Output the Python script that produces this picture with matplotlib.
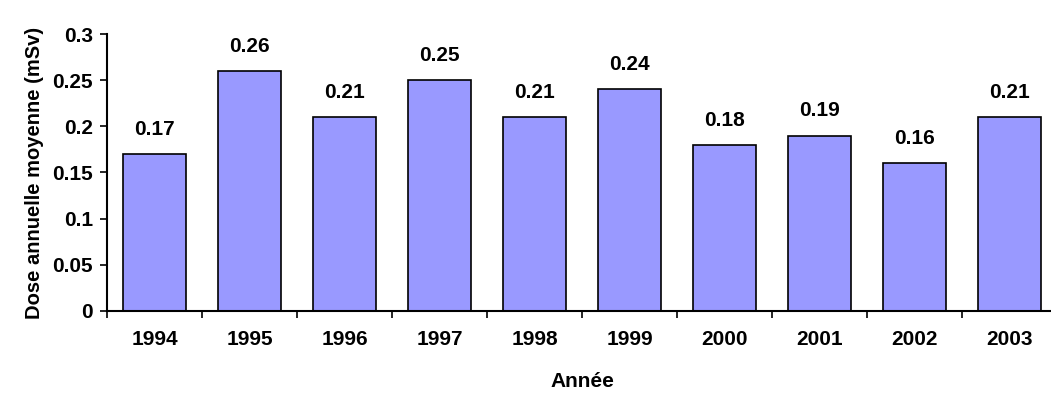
import matplotlib.pyplot as plt
import numpy as np

# annual mean dose per year
years = ['1994', '1995', '1996', '1997', '1998', '1999', '2000', '2001', '2002', '2003']
doses = [0.17, 0.26, 0.21, 0.25, 0.21, 0.24, 0.18, 0.19, 0.16, 0.21]
y_ticks = [0, 0.05, 0.1, 0.15, 0.2, 0.25, 0.3]
y_tick_labels = ['0', '0.05', '0.1', '0.15', '0.2', '0.25', '0.3']

plt.rcParams['font.family'] = ['Liberation Sans', 'DejaVu Sans']
plt.rcParams['font.weight'] = 'bold'

fig = plt.figure(figsize=(10.51, 3.94), dpi=100)
ax = fig.add_axes([0.1018, 0.2107, 0.9039, 0.7030])

x = np.arange(len(years))
bars = ax.bar(x, doses, width=0.67, color='#9999FF', edgecolor='black', linewidth=1.2)

# value labels above bars
for xi, v in zip(x, doses):
    ax.annotate(f'{v:g}', (xi, v), xytext=(0, 11), textcoords='offset points',
                ha='center', va='bottom', fontsize=15, fontweight='bold')

ax.set_xlim(-0.5, len(years) - 0.5)
ax.set_ylim(0, 0.3)

ax.set_yticks(y_ticks)
ax.set_yticklabels(y_tick_labels, fontsize=15, fontweight='bold')

# category labels centred, tick marks between categories
ax.set_xticks(np.arange(len(years) + 1) - 0.5)
ax.set_xticklabels([])
ax.set_xticks(x, minor=True)
ax.set_xticklabels(years, minor=True, fontsize=15, fontweight='bold')
ax.tick_params(axis='x', which='minor', length=0, pad=14)
ax.tick_params(axis='x', which='major', length=5, width=1.2, direction='out')
ax.tick_params(axis='y', length=5, width=1.2, direction='out', pad=5)

for s in ['top', 'right']:
    ax.spines[s].set_visible(False)
for s in ['left', 'bottom']:
    ax.spines[s].set_linewidth(1.5)

ax.set_ylabel('Dose annuelle moyenne (mSv)', fontsize=14.5, fontweight='bold', labelpad=6)
ax.set_xlabel('Année', fontsize=15, fontweight='bold', labelpad=16)

fig.savefig('out.png', dpi=100)
